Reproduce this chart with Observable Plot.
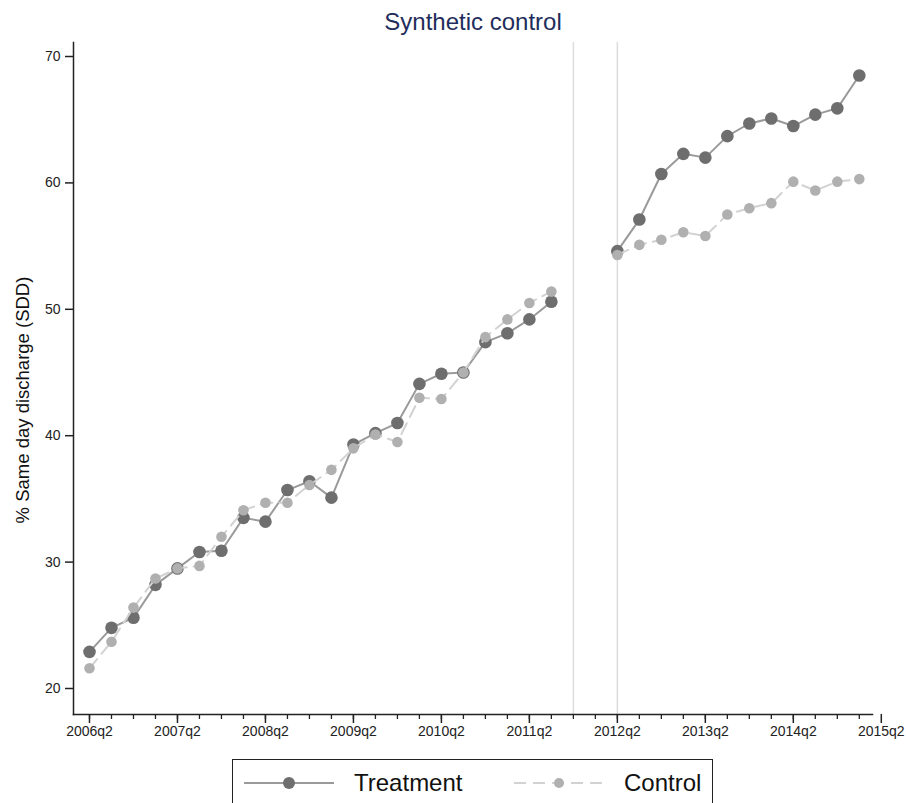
<!DOCTYPE html>
<html><head><meta charset="utf-8">
<script src="https://cdn.jsdelivr.net/npm/d3@7"></script>
<script src="https://cdn.jsdelivr.net/npm/@observablehq/plot@0.6"></script>
<style>
body{margin:0;background:#fff;font-family:"Liberation Sans",Arial,sans-serif}
#wrap{position:relative;width:906px;height:803px;overflow:hidden}
#chart{position:absolute;left:0;top:0}
#legend{position:absolute;left:232px;top:759px;width:481px;height:60px;box-sizing:border-box;border:1.5px solid #222;border-bottom:none;background:#fff}
</style></head><body><div id="wrap"><div id="chart"></div><div id="legend"></div></div>
<script>
const quarters = ["2006q2","2006q3","2006q4","2007q1","2007q2","2007q3","2007q4","2008q1",
  "2008q2","2008q3","2008q4","2009q1","2009q2","2009q3","2009q4","2010q1",
  "2010q2","2010q3","2010q4","2011q1","2011q2","2011q3","2011q4","2012q1",
  "2012q2","2012q3","2012q4","2013q1","2013q2","2013q3","2013q4","2014q1",
  "2014q2","2014q3","2014q4","2015q1","2015q2"];
const treatment = [22.9, 24.8, 25.6, 28.2, 29.5, 30.8, 30.9, 33.5, 33.2, 35.7, 36.4, 35.1,
  39.3, 40.2, 41.0, 44.1, 44.9, 45.0, 47.4, 48.1, 49.2, 50.6, null, null,
  54.6, 57.1, 60.7, 62.3, 62.0, 63.7, 64.7, 65.1, 64.5, 65.4, 65.9, 68.5];
const control = [21.6, 23.7, 26.4, 28.7, 29.5, 29.7, 32.0, 34.1, 34.7, 34.7, 36.1, 37.3,
  39.0, 40.1, 39.5, 43.0, 42.9, 45.0, 47.8, 49.2, 50.5, 51.4, null, null,
  54.3, 55.1, 55.5, 56.1, 55.8, 57.5, 58.0, 58.4, 60.1, 59.4, 60.1, 60.3];
const yTicks = [20, 30, 40, 50, 60, 70];
const xTickLabels = ["2006q2","2007q2","2008q2","2009q2","2010q2","2011q2","2012q2","2013q2","2014q2","2015q2"];
const eventLines = ["2011q4", "2012q2"];
const seriesNames = ["Treatment", "Control"];
const titleText = "Synthetic control";
const yLabel = "% Same day discharge (SDD)";

const xIdx = q => quarters.indexOf(q);
const rows = treatment.map((v, i) => ({t: i, q: quarters[i], treatment: v, control: control[i]}));
const minorTicks = treatment.map((v, i) => i);

const FONT = '"Liberation Sans", Arial, sans-serif';
const AX = "#222";

const chart = Plot.plot({
  width: 906, height: 750,
  marginTop: 42, marginBottom: 36, marginLeft: 73, marginRight: 34,
  style: {fontFamily: FONT, background: "transparent", color: AX},
  x: {type: "linear", domain: [-0.727, 35.6], axis: null},
  y: {domain: [17.943, 71.108], axis: null},
  marks: [
    Plot.ruleX(eventLines.map(xIdx), {stroke: "#dcdcdc", strokeWidth: 1.5}),
    Plot.frame({anchor: "left", stroke: AX, strokeWidth: 1.5}),
    Plot.frame({anchor: "bottom", stroke: AX, strokeWidth: 1.5}),
    Plot.axisY({ticks: yTicks, tickSize: 8, tickPadding: 5, fontSize: 14, label: null, stroke: AX, strokeWidth: 1.5}),
    Plot.axisX({ticks: minorTicks, tickSize: 5, tickFormat: () => "", label: null, stroke: AX, strokeWidth: 1.3}),
    Plot.axisX({ticks: xTickLabels.map(xIdx), tickSize: 9, tickPadding: 3, tickFormat: i => quarters[i], fontSize: 14, label: null, stroke: AX, strokeWidth: 1.5}),
    Plot.line(rows, {x: "t", y: "treatment", stroke: "#9a9a9a", strokeWidth: 2}),
    Plot.dot(rows, {x: "t", y: "treatment", r: 6.3, fill: "#6e6e6e"}),
    Plot.line(rows, {x: "t", y: "control", stroke: "#d2d2d2", strokeWidth: 2, strokeDasharray: "12,7"}),
    Plot.dot(rows, {x: "t", y: "control", r: 5.3, fill: "#b0b0b0"}),
    Plot.text([titleText], {text: d => d, frameAnchor: "top", lineAnchor: "bottom", dy: -13, fontSize: 24, fill: "#1f2d5c"})
  ]
});
document.getElementById("chart").appendChild(chart);

// y-axis title
d3.select(chart).append("text")
  .attr("transform", "translate(29,400) rotate(-90)")
  .attr("text-anchor", "middle")
  .attr("font-size", 18.5)
  .attr("font-family", FONT)
  .attr("fill", "#111")
  .text(yLabel);

// legend
const legItems = [
  {name: seriesNames[0], x0: 11, stroke: "#9a9a9a", fill: "#6e6e6e", r: 6, dash: null},
  {name: seriesNames[1], x0: 281, stroke: "#d2d2d2", fill: "#b0b0b0", r: 5, dash: "12,7"}
];
const leg = d3.select("#legend").append("svg").attr("width", 478).attr("height", 60)
  .style("font-family", FONT);
for (const it of legItems) {
  const g = leg.append("g");
  g.append("line").attr("x1", it.x0).attr("x2", it.x0 + 90).attr("y1", 23).attr("y2", 23)
    .attr("stroke", it.stroke).attr("stroke-width", 2).attr("stroke-dasharray", it.dash);
  g.append("circle").attr("cx", it.x0 + 45).attr("cy", 23).attr("r", it.r).attr("fill", it.fill);
  g.append("text").attr("x", it.x0 + 110).attr("y", 31).attr("font-size", 24).attr("fill", "#111").text(it.name);
}
</script></body></html>
